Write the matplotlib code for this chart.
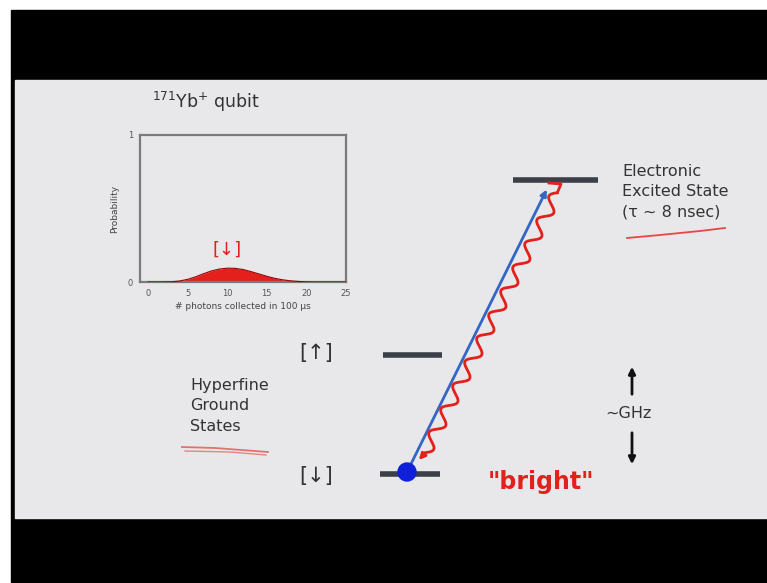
import numpy as np
import matplotlib.pyplot as plt
from matplotlib.patches import Rectangle, Circle, FancyArrowPatch

W, H = 767, 583

# histogram data: photons collected vs probability for the |down> (bright) state
photon_counts = list(range(0, 26))
probability = [0.0, 0.0, 0.0, 0.002, 0.007, 0.018, 0.035, 0.056, 0.075, 0.088,
               0.094, 0.093, 0.085, 0.071, 0.055, 0.039, 0.025, 0.015, 0.008, 0.004,
               0.001, 0.0, 0.0, 0.0, 0.0, 0.0]
x_ticks = [0, 5, 10, 15, 20, 25]
y_ticks = [0, 1]

title_text = r"$^{171}$Yb$^{+}$ qubit"
excited_label = "Electronic\nExcited State\n(\u03c4 ~ 8 nsec)"
ground_label = "Hyperfine\nGround\nStates"

BG = "#e8e8ea"
LEVEL = "#3b4048"
RED = "#e3201b"
BLUE = "#3466c4"

fig = plt.figure(figsize=(W / 100, H / 100), dpi=100)
fig.patch.set_facecolor("white")
ax = fig.add_axes([0, 0, 1, 1])
ax.set_xlim(0, W)
ax.set_ylim(H, 0)
ax.axis("off")

# black video frame and grey slide
ax.add_patch(Rectangle((11, 10), W - 11, H - 11, color="black", zorder=0))
ax.add_patch(Rectangle((15, 80), W - 15, 438, color=BG, zorder=1))

# energy levels
ax.plot([513, 598], [180, 180], color=LEVEL, lw=4, solid_capstyle="butt", zorder=3)
ax.plot([383, 442], [355, 355], color=LEVEL, lw=4, solid_capstyle="butt", zorder=3)
ax.plot([380, 440], [474, 474], color=LEVEL, lw=4, solid_capstyle="butt", zorder=3)

# laser (blue arrow)
ax.add_patch(FancyArrowPatch((407, 472), (548, 187), arrowstyle="-|>",
                             mutation_scale=9, color=BLUE, lw=2, zorder=4))

# emitted photon (red wiggle), drawn just right of the laser line
p0 = np.array([556.0, 192.0])
p1 = np.array([424.0, 452.0])
d = p1 - p0
u = d / np.hypot(*d)
nrm = np.array([-u[1], u[0]])
t = np.linspace(0, 1, 600)
off = 6.0 * np.sin(2 * np.pi * 11 * t) - 1.5
pts = p0[None, :] + t[:, None] * d[None, :] + off[:, None] * nrm[None, :]
ax.plot([549, 561, pts[0, 0]], [183, 184, pts[0, 1]], color=RED, lw=2, zorder=4)
ax.plot(pts[:, 0], pts[:, 1], color=RED, lw=2, zorder=4)
ax.add_patch(FancyArrowPatch(tuple(pts[-1]), (417, 462), arrowstyle="-|>",
                             mutation_scale=9, color=RED, lw=2, zorder=4))

# ion
ax.add_patch(Circle((407, 472), 9, color="#1020d8", zorder=5))

# texts
ax.text(622, 192, excited_label, fontsize=11.5, color="#333333",
        va="center", ha="left", linespacing=1.45, zorder=6)
ax.plot([627, 660, 700, 725], [238, 235, 231, 228], color=RED, lw=1.3, alpha=0.8, zorder=6)
ax.text(190, 406, ground_label, fontsize=11.5, color="#333333",
        va="center", ha="left", linespacing=1.45, zorder=6)
ax.plot([182, 215, 268], [447, 448, 452], color=RED, lw=1.3, alpha=0.6, zorder=6)
ax.plot([185, 230, 266], [451, 452, 455], color=RED, lw=1.0, alpha=0.5, zorder=6)
ax.text(316, 353, "[\u2191]", fontsize=15, color="#333333", ha="center", va="center", zorder=6)
ax.text(316, 476, "[\u2193]", fontsize=15, color="#333333", ha="center", va="center", zorder=6)
ax.text(628, 413, "~GHz", fontsize=11.5, color="#333333", ha="center", va="center", zorder=6)
ax.add_patch(FancyArrowPatch((632, 397), (632, 364), arrowstyle="-|>",
                             mutation_scale=10, color="#111111", lw=2, zorder=6))
ax.add_patch(FancyArrowPatch((632, 430), (632, 467), arrowstyle="-|>",
                             mutation_scale=10, color="#111111", lw=2, zorder=6))
ax.text(541, 482, "\"bright\"", fontsize=17, fontweight="bold", color=RED,
        ha="center", va="center", zorder=6)
ax.text(152, 102, title_text, fontsize=12.5, color="#333333", ha="left", va="center", zorder=6)

# inset histogram
axh = fig.add_axes([140 / W, 1 - 282 / H, 206 / W, 147 / H])
axh.set_facecolor("none")
axh.fill_between(photon_counts, probability, color=RED, lw=0, zorder=2)
axh.plot(photon_counts, probability, color="#9a0000", lw=0.8, zorder=3)
axh.set_xlim(-1, 25)
axh.set_ylim(0, 1)
axh.set_xticks(x_ticks)
axh.set_yticks(y_ticks)
axh.tick_params(length=0, labelsize=6, colors="#555555", pad=5)
for s in axh.spines.values():
    s.set_color("#7a7a7a")
    s.set_linewidth(1.6)
axh.set_xlabel("# photons collected in 100 \u03bcs", fontsize=6.5, color="#444444", labelpad=3)
axh.set_ylabel("Probability", fontsize=6.5, color="#444444", labelpad=6)
axh.text(10, 0.22, "[\u2193]", fontsize=13, color=RED, ha="center", va="center")

fig.savefig("out.png", dpi=100)
